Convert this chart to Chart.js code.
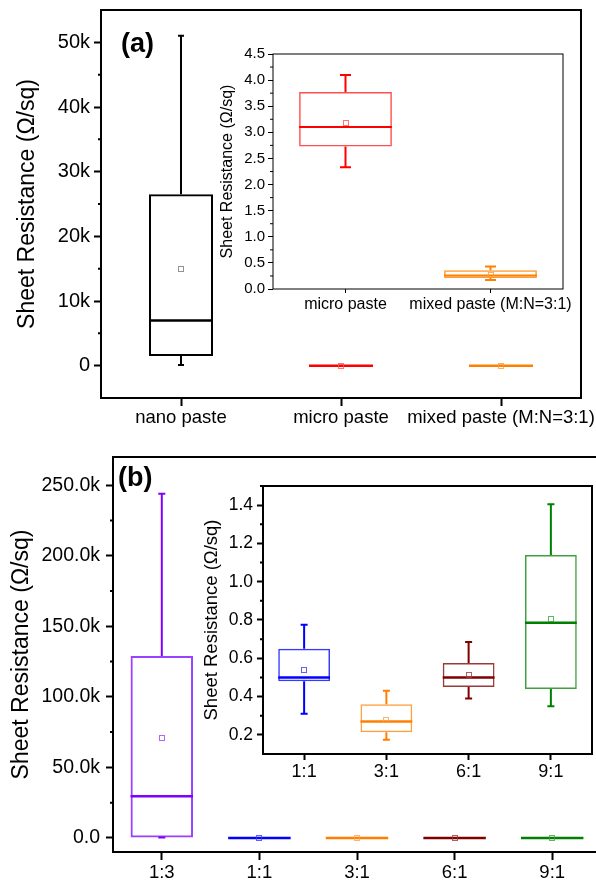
<!DOCTYPE html>
<html>
<head>
<meta charset="utf-8">
<script src="https://cdn.jsdelivr.net/npm/chart.js@4.4.0/dist/chart.umd.min.js"></script>
<style>
  html, body { margin: 0; padding: 0; overflow: hidden; background: #fff; }
  body { width: 596px; height: 884px; position: relative; }
  canvas { position: absolute; }
</style>
</head>
<body>
<canvas id="mainA" width="596" height="440" style="left:0;top:0"></canvas>
<canvas id="insetA" width="400" height="290" style="left:190px;top:40px"></canvas>
<canvas id="mainB" width="610" height="434" style="left:0;top:450px"></canvas>
<canvas id="insetB" width="416" height="320" style="left:180px;top:470px"></canvas>
<script>
  // (a) paste types
  const pastes = ["nano paste", "micro paste", "mixed paste (M:N=3:1)"];
  const pasteMin = [100, 2.33, 0.17];
  const pasteQ1 = [1500, 2.73, 0.21];
  const pasteMedian = [7000, 3.10, 0.26];
  const pasteMean = [15000, 3.17, 0.27];
  const pasteQ3 = [26500, 3.77, 0.36];
  const pasteMax = [51000, 4.10, 0.43];
  const pasteColors = ["#000000", "#ff0000", "#ff8000"];
  const pasteBoxColors = ["#000000", "#ff5050", "#ff9a33"];

  // (b) micro:nano ratios
  const ratios = ["1:3", "1:1", "3:1", "6:1", "9:1"];
  const ratioMin = [200, 0.31, 0.175, 0.39, 0.35];
  const ratioQ1 = [300, 0.48, 0.214, 0.45, 0.44];
  const ratioMedian = [29600, 0.50, 0.27, 0.50, 0.785];
  const ratioMean = [70500, 0.54, 0.28, 0.515, 0.805];
  const ratioQ3 = [129000, 0.65, 0.36, 0.575, 1.14];
  const ratioMax = [244000, 0.775, 0.43, 0.685, 1.405];
  const ratioColors = ["#8000ff", "#0000ff", "#ff8000", "#800000", "#008000"];
  const ratioBoxColors = ["#9a40ff", "#3838ff", "#ffa040", "#9a3a3a", "#40a040"];

  const ticksMainA = [0, 10000, 20000, 30000, 40000, 50000];
  const ticksInsetA = [0, 0.5, 1.0, 1.5, 2.0, 2.5, 3.0, 3.5, 4.0, 4.5];
  const ticksMainB = [0, 50000, 100000, 150000, 200000, 250000];
  const ticksInsetB = [0.2, 0.4, 0.6, 0.8, 1.0, 1.2, 1.4];

  Chart.defaults.font.family = "'Liberation Sans', Arial, sans-serif";
  Chart.defaults.color = "#000";

  const kFmt = (d) => (v) => (v === 0 ? (d ? "0.0" : "0") : (v / 1000).toFixed(d) + "k");
  const fixFmt = (d) => (v) => v.toFixed(d);

  // whiskers, caps, median and mean drawn on top of the floating bars
  const boxPlot = {
    id: "boxPlot",
    afterDatasetsDraw(chart, args, opts) {
      const ctx = chart.ctx;
      const y = chart.scales.y;
      const s = chart.data.datasets[0].stats;
      chart.getDatasetMeta(0).data.forEach((bar, i) => {
        const x = bar.x, half = bar.width / 2;
        const hi = y.getPixelForValue(s.max[i]), lo = y.getPixelForValue(s.min[i]);
        ctx.save();
        ctx.strokeStyle = s.color[i];
        ctx.lineWidth = opts.lineWidth;
        ctx.beginPath();
        ctx.moveTo(x, y.getPixelForValue(s.q3[i])); ctx.lineTo(x, hi);
        ctx.moveTo(x, y.getPixelForValue(s.q1[i])); ctx.lineTo(x, lo);
        ctx.moveTo(x - opts.cap, hi); ctx.lineTo(x + opts.cap, hi);
        ctx.moveTo(x - opts.cap, lo); ctx.lineTo(x + opts.cap, lo);
        ctx.stroke();
        const m = y.getPixelForValue(s.median[i]);
        ctx.lineWidth = opts.medianWidth;
        ctx.beginPath();
        ctx.moveTo(x - half, m); ctx.lineTo(x + half, m);
        ctx.stroke();
        const mn = y.getPixelForValue(s.mean[i]);
        ctx.lineWidth = 1;
        ctx.strokeStyle = s.color[i] === "#000000" ? "#777" : s.box[i];
        ctx.globalAlpha = 0.8;
        ctx.strokeRect(Math.round(x) - 2.5, Math.round(mn) - 2.5, 5, 5);
        ctx.restore();
      });
    },
  };

  // closed frame, minor ticks and the panel letter
  const frame = {
    id: "frame",
    afterDraw(chart, args, opts) {
      const { ctx, chartArea: a } = chart;
      const y = chart.scales.y;
      ctx.save();
      ctx.strokeStyle = "#000";
      ctx.lineWidth = opts.width;
      ctx.strokeRect(a.left, a.top, a.right - a.left, a.bottom - a.top);
      ctx.lineWidth = opts.tickWidth;
      ctx.beginPath();
      opts.minor.forEach((v) => {
        const p = y.getPixelForValue(v);
        ctx.moveTo(a.left, p);
        ctx.lineTo(a.left - opts.minorLength, p);
      });
      ctx.stroke();
      if (opts.letter) {
        ctx.fillStyle = "#000";
        ctx.font = "bold 27px 'Liberation Sans', Arial, sans-serif";
        ctx.fillText(opts.letter, opts.letterX, opts.letterY);
      }
      ctx.restore();
    },
  };

  const minorOf = (ticks, min, max) => {
    const step = ticks[1] - ticks[0];
    const out = [];
    for (let v = ticks[0] - step / 2; v < max; v += step) {
      if (v > min) out.push(v);
    }
    return out;
  };

  function boxChart(id, c) {
    return new Chart(document.getElementById(id), {
      type: "bar",
      data: {
        labels: c.labels,
        datasets: [
          {
            data: c.q1.map((v, i) => [v, c.q3[i]]),
            stats: { min: c.min, q1: c.q1, median: c.median, mean: c.mean, q3: c.q3, max: c.max, color: c.colors, box: c.boxColors },
            backgroundColor: "rgba(255,255,255,0)",
            borderColor: c.boxColors,
            borderWidth: c.boxWidth,
            borderSkipped: false,
            barPercentage: c.barPct,
            categoryPercentage: 1,
          },
        ],
      },
      options: {
        responsive: false,
        animation: false,
        layout: { padding: c.padding },
        plugins: {
          legend: { display: false },
          tooltip: { enabled: false },
          boxPlot: { lineWidth: c.whisker, medianWidth: c.medianWidth, cap: c.cap },
          frame: {
            width: c.frameWidth,
            tickWidth: c.tickWidth,
            minorLength: c.minorLength,
            minor: minorOf(c.ticks, c.yMin, c.yMax),
            letter: c.letter,
            letterX: c.letterX,
            letterY: c.letterY,
          },
        },
        scales: {
          x: {
            offset: true,
            border: { display: false },
            grid: { offset: false, drawOnChartArea: false, tickLength: c.xTickLength, tickColor: "#000", tickWidth: c.tickWidth },
            ticks: { font: { size: c.xFont }, padding: c.xPad, maxRotation: 0, autoSkip: false },
            afterFit: (s) => { s.height = c.xHeight; s.paddingLeft = 0; s.paddingRight = 0; },
          },
          y: {
            min: c.yMin,
            max: c.yMax,
            border: { display: false },
            grid: { drawOnChartArea: false, tickLength: c.yTickLength, tickColor: "#000", tickWidth: c.tickWidth },
            ticks: { font: { size: c.yFont }, padding: c.yPad, callback: c.fmt },
            afterBuildTicks: (s) => { s.ticks = c.ticks.map((v) => ({ value: v })); },
            afterFit: (s) => { s.width = c.yWidth; s.paddingTop = 0; s.paddingBottom = 0; },
            title: { display: true, text: "Sheet Resistance (Ω/sq)", font: { size: c.titleFont }, padding: { top: c.titlePad, bottom: 0 } },
          },
        },
      },
      plugins: [boxPlot, frame],
    });
  }

  boxChart("mainA", {
    labels: pastes, min: pasteMin, q1: pasteQ1, median: pasteMedian, mean: pasteMean, q3: pasteQ3, max: pasteMax,
    colors: pasteColors, boxColors: pasteBoxColors, boxWidth: 2, barPct: 0.4,
    whisker: 2, medianWidth: 2.5, cap: 3,
    yMin: -5000, yMax: 55000, ticks: ticksMainA, fmt: kFmt(0),
    padding: { top: 10, right: 15, left: 0, bottom: 0 }, yWidth: 101, xHeight: 42,
    frameWidth: 2, tickWidth: 2, xTickLength: 8, yTickLength: 7, minorLength: 3,
    xFont: 18.5, xPad: 1, yFont: 20, yPad: 4, titleFont: 23, titlePad: 14,
    letter: "(a)", letterX: 121, letterY: 52,
  });

  boxChart("insetA", {
    labels: pastes.slice(1), min: pasteMin.slice(1), q1: pasteQ1.slice(1), median: pasteMedian.slice(1),
    mean: pasteMean.slice(1), q3: pasteQ3.slice(1), max: pasteMax.slice(1),
    colors: pasteColors.slice(1), boxColors: pasteBoxColors.slice(1), boxWidth: 1.5, barPct: 0.64,
    whisker: 2, medianWidth: 2, cap: 5.5,
    yMin: 0, yMax: 4.5, ticks: ticksInsetA, fmt: fixFmt(1),
    padding: { top: 14, right: 27, left: 0, bottom: 0 }, yWidth: 83, xHeight: 41,
    frameWidth: 1, tickWidth: 1, xTickLength: 4, yTickLength: 5, minorLength: 3,
    xFont: 16, xPad: 1.5, yFont: 15, yPad: 3, titleFont: 16, titlePad: 28,
  });

  boxChart("mainB", {
    labels: ratios, min: ratioMin, q1: ratioQ1, median: ratioMedian, mean: ratioMean, q3: ratioQ3, max: ratioMax,
    colors: ratioColors, boxColors: ratioBoxColors, boxWidth: 2, barPct: 0.64,
    whisker: 2, medianWidth: 2.5, cap: 3.5,
    yMin: -10000, yMax: 270000, ticks: ticksMainB, fmt: kFmt(1),
    padding: { top: 7, right: 9, left: 0, bottom: 0 }, yWidth: 113, xHeight: 32,
    frameWidth: 2, tickWidth: 2, xTickLength: 8, yTickLength: 7, minorLength: 3,
    xFont: 18.5, xPad: 2, yFont: 19.5, yPad: 6, titleFont: 23, titlePad: 8,
    letter: "(b)", letterX: 118, letterY: 36,
  });

  boxChart("insetB", {
    labels: ratios.slice(1), min: ratioMin.slice(1), q1: ratioQ1.slice(1), median: ratioMedian.slice(1),
    mean: ratioMean.slice(1), q3: ratioQ3.slice(1), max: ratioMax.slice(1),
    colors: ratioColors.slice(1), boxColors: ratioBoxColors.slice(1), boxWidth: 1.5, barPct: 0.63,
    whisker: 2, medianWidth: 2.5, cap: 3.5,
    yMin: 0.1, yMax: 1.5, ticks: ticksInsetB, fmt: fixFmt(1),
    padding: { top: 16, right: 4, left: 0, bottom: 0 }, yWidth: 83, xHeight: 36,
    frameWidth: 2, tickWidth: 2, xTickLength: 6, yTickLength: 6, minorLength: 3,
    xFont: 18, xPad: 1, yFont: 17.5, yPad: 4, titleFont: 18.5, titlePad: 21,
  });
</script>
</body>
</html>
